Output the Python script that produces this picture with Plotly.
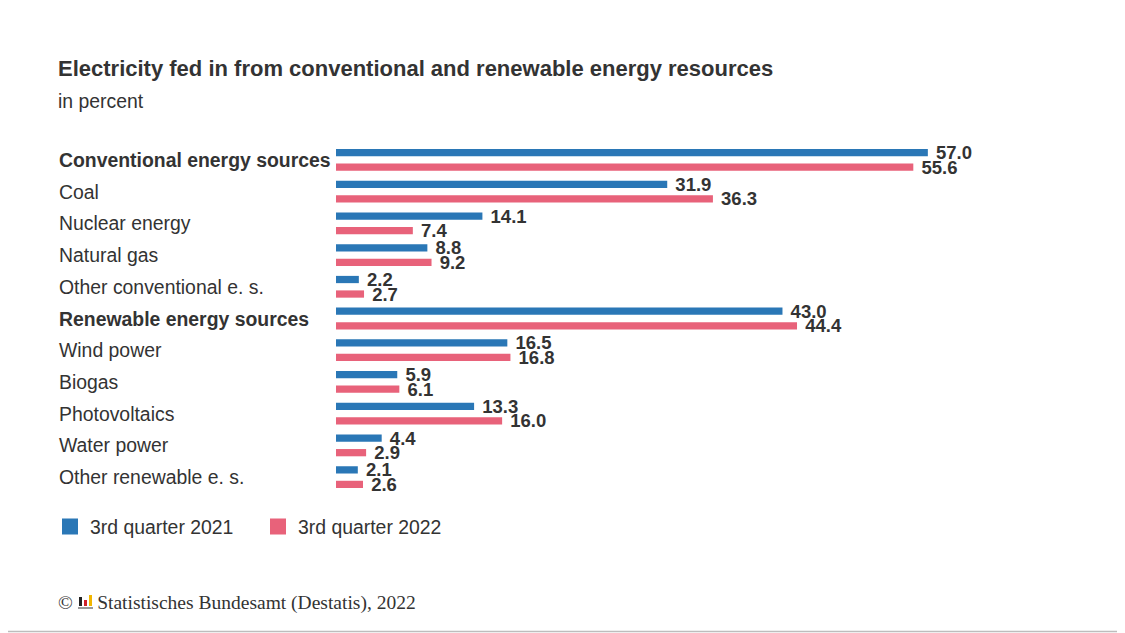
import plotly.graph_objects as go

# data
categories = [
    "Conventional energy sources", "Coal", "Nuclear energy", "Natural gas",
    "Other conventional e. s.", "Renewable energy sources", "Wind power",
    "Biogas", "Photovoltaics", "Water power", "Other renewable e. s.",
]
bold_rows = ["Conventional energy sources", "Renewable energy sources"]
q3_2021 = [57.0, 31.9, 14.1, 8.8, 2.2, 43.0, 16.5, 5.9, 13.3, 4.4, 2.1]
q3_2022 = [55.6, 36.3, 7.4, 9.2, 2.7, 44.4, 16.8, 6.1, 16.0, 2.9, 2.6]
series_names = ["3rd quarter 2021", "3rd quarter 2022"]

BLUE = "#2a77b6"
RED = "#e8627a"
TXT = "#333333"
SANS = "Liberation Sans, Arial, sans-serif"
SERIF = "Liberation Serif, Times New Roman, serif"

W, H = 1125, 633
OFF = 8  # the page puts the plot 8px in from the top-left corner
# plot area wanted on screen: x 336..959, y 144..493
L = 336 - OFF
T = 144 - OFF
R = W - (959 - OFF)
B = H - (493 - OFF)
pw, ph = W - L - R, H - T - B


def px_x(p):
    return (p - OFF - L) / pw


def px_y(p):
    return (H - B - (p - OFF)) / ph


fig = go.Figure()

for vals, color in [(q3_2021, BLUE), (q3_2022, RED)]:
    fig.add_trace(go.Bar(
        y=categories, x=vals, orientation="h",
        marker=dict(color=color, line_width=0),
        texttemplate="&nbsp;%{x:.1f}", textposition="outside",
        textfont=dict(family=SANS, size=18.5, color=TXT, weight="bold"),
        constraintext="none", cliponaxis=False,
        showlegend=False, hoverinfo="skip",
    ))

# legend proxies with larger square swatches
for name, color in zip(series_names, [BLUE, RED]):
    fig.add_trace(go.Scatter(
        x=[None], y=[None], mode="markers", name=name,
        marker=dict(symbol="square", size=18, color=color),
    ))

# left-aligned category labels
for cat in categories:
    fig.add_annotation(
        x=px_x(57), xref="paper", y=cat, yref="y",
        text=f"<b>{cat}</b>" if cat in bold_rows else cat,
        showarrow=False, xanchor="left", yanchor="middle",
        font=dict(family=SANS, size=19.4, color=TXT),
    )

fig.add_annotation(
    x=px_x(56), xref="paper", y=px_y(68), yref="paper",
    text="<b>Electricity fed in from conventional and renewable energy resources</b>",
    showarrow=False, xanchor="left", yanchor="middle",
    font=dict(family=SANS, size=22, color=TXT),
)
fig.add_annotation(
    x=px_x(56), xref="paper", y=px_y(101), yref="paper",
    text="in percent", showarrow=False, xanchor="left", yanchor="middle",
    font=dict(family=SANS, size=19.4, color=TXT),
)
fig.add_annotation(
    x=px_x(56), xref="paper", y=px_y(603), yref="paper",
    text="©" + "&nbsp;" * 5 + "Statistisches Bundesamt (Destatis), 2022",
    showarrow=False, xanchor="left", yanchor="middle",
    font=dict(family=SERIF, size=19.5, color=TXT),
)

shapes = []
# little logo next to the copyright sign
for x0, x1, y0, y1, c in [(79, 82, 597, 606, "#222222"),
                          (84, 87, 600, 606, "#d0202a"),
                          (89, 92, 595, 606, "#f2b600"),
                          (78, 93, 607, 609, "#999999")]:
    shapes.append(dict(type="rect", xref="paper", yref="paper",
                       x0=px_x(x0), x1=px_x(x1), y0=px_y(y1), y1=px_y(y0),
                       fillcolor=c, line_width=0))
# bottom page border line
shapes.append(dict(type="line", xref="paper", yref="paper",
                   x0=px_x(OFF), x1=px_x(W + OFF), y0=px_y(631.5), y1=px_y(631.5),
                   line=dict(color="#bdbdbd", width=1.5)))

fig.update_layout(
    width=W, height=H,
    margin=dict(l=L, r=R, t=T, b=B, pad=0),
    paper_bgcolor="white", plot_bgcolor="white",
    barmode="group", bargap=0.085, bargroupgap=0.5,
    xaxis=dict(range=[0, 60], visible=False, fixedrange=True),
    yaxis=dict(autorange="reversed", showticklabels=False, showgrid=False,
               zeroline=False, fixedrange=True),
    legend=dict(orientation="h", x=px_x(50), y=px_y(527),
                xanchor="left", yanchor="middle",
                font=dict(family=SANS, size=19.4, color=TXT),
                entrywidthmode="pixels", entrywidth=163,
                bgcolor="rgba(0,0,0,0)"),
    shapes=shapes,
    showlegend=True,
)

fig.write_html("out.html")
